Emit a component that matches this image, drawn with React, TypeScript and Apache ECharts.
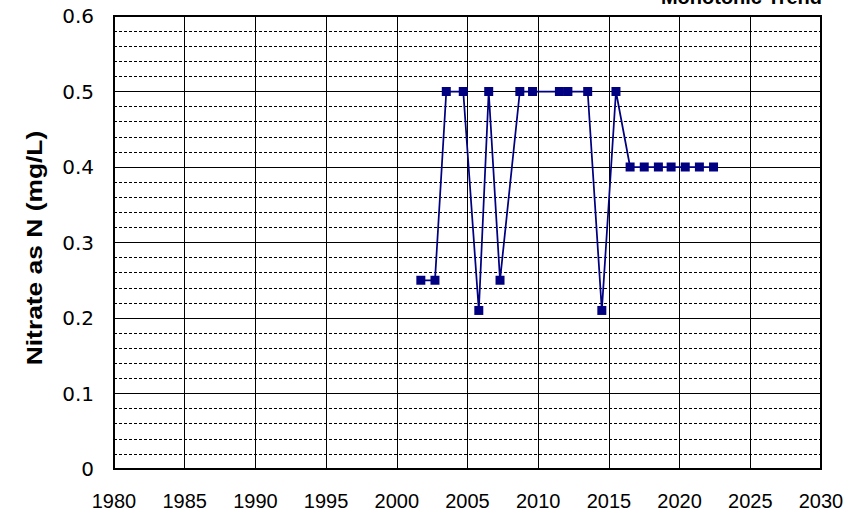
import React, { useEffect, useRef } from "react";
import * as echarts from "echarts";

const titleText = "Monotonic Trend";
const yAxisTitle = "Nitrate as N (mg/L)";
const sampleYears = [
  2001.7, 2002.7, 2003.5, 2004.7, 2005.8, 2006.5, 2007.3, 2008.7, 2009.6,
  2011.5, 2012.1, 2013.5, 2014.5, 2015.5, 2016.5, 2017.5, 2018.5, 2019.4,
  2020.4, 2021.4, 2022.4,
];
const nitrateValues = [
  0.25, 0.25, 0.5, 0.5, 0.21, 0.5, 0.25, 0.5, 0.5, 0.5, 0.5, 0.5, 0.21, 0.5,
  0.4, 0.4, 0.4, 0.4, 0.4, 0.4, 0.4,
];
const xMin = 1980;
const xMax = 2030;
const xStep = 5;
const yMin = 0;
const yMax = 0.6;
const yStep = 0.1;

export default function App() {
  const ref = useRef<HTMLDivElement>(null);
  useEffect(() => {
    if (!ref.current) return;
    const chart = echarts.init(ref.current, null, { renderer: "svg" });
    const font = "Arial, 'Liberation Sans', sans-serif";
    chart.setOption({
      animation: false,
      backgroundColor: "#ffffff",
      grid: {
        left: 114,
        right: 42,
        top: 16,
        bottom: 47,
        show: true,
        borderColor: "#000",
        borderWidth: 2,
        backgroundColor: "transparent",
      },
      xAxis: {
        type: "value",
        min: xMin,
        max: xMax,
        interval: xStep,
        axisLine: { show: true, onZero: false, lineStyle: { color: "#000", width: 2 } },
        axisTick: { show: false },
        axisLabel: {
          color: "#000",
          fontSize: 20,
          fontFamily: font,
          margin: 22,
          formatter: (v: number) => String(v),
        },
        splitLine: { show: true, lineStyle: { color: "#000", width: 1 } },
      },
      yAxis: {
        type: "value",
        min: yMin,
        max: yMax,
        interval: yStep,
        axisLine: { show: true, lineStyle: { color: "#000", width: 2 } },
        axisTick: { show: false },
        axisLabel: {
          color: "#000",
          fontSize: 20,
          fontFamily: "'DejaVu Sans', Arial, sans-serif",
          margin: 20,
          formatter: (v: number) => (v === 0 ? "0" : v.toFixed(1)),
        },
        splitLine: { show: true, lineStyle: { color: "#000", width: 1 } },
        minorTick: { show: false, splitNumber: 5 },
        minorSplitLine: {
          show: true,
          lineStyle: { color: "#000", width: 1, type: [3, 2] },
        },
      },
      graphic: [
        {
          type: "text",
          x: 822,
          y: -3,
          style: {
            text: titleText,
            font: "bold 20px Arial, 'Liberation Sans', sans-serif",
            fill: "#000",
            align: "right",
            verticalAlign: "middle",
          },
        },
        {
          type: "text",
          x: 34,
          y: 248,
          rotation: Math.PI / 2,
          scaleX: 1.2,
          style: {
            text: yAxisTitle,
            font: "bold 22px Arial, 'Liberation Sans', sans-serif",
            fill: "#000",
            align: "center",
            verticalAlign: "middle",
          },
        },
      ],
      series: [
        {
          type: "line",
          data: sampleYears.map((y, i) => [y, nitrateValues[i]]),
          symbol: "rect",
          symbolSize: 9,
          itemStyle: { color: "#000080" },
          lineStyle: { color: "#000080", width: 1.75 },
        },
      ],
    });
    return () => chart.dispose();
  }, []);
  return (
    <div
      ref={ref}
      style={{ position: "fixed", left: 0, top: 0, width: 863, height: 516, background: "#fff" }}
    />
  );
}
